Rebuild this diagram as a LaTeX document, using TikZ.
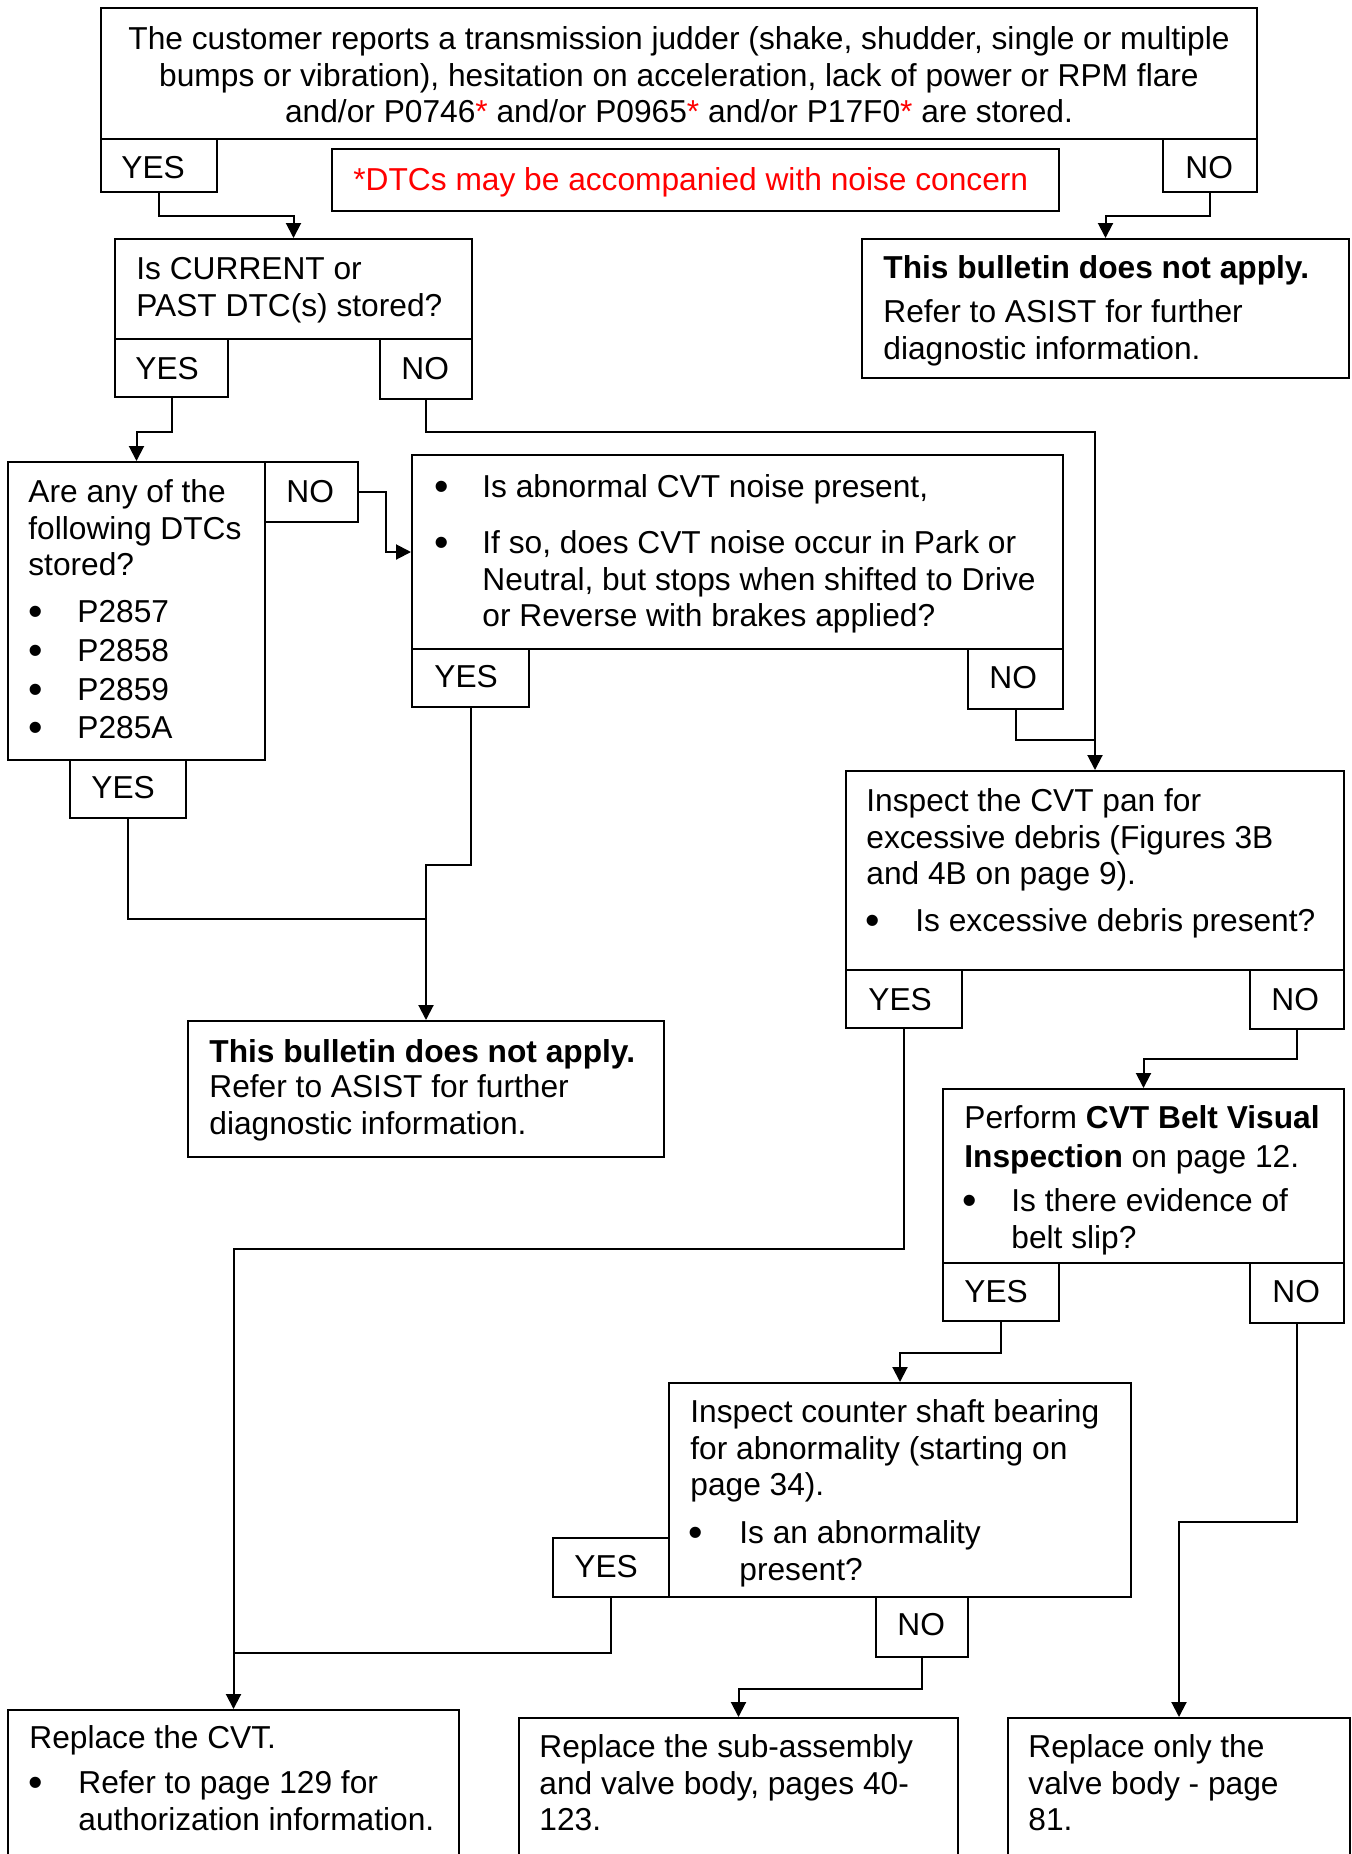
\documentclass[tikz,border=0pt]{standalone}
\usepackage{graphicx}
\usepackage{fontspec}
\setmainfont{Liberation Sans}
\usetikzlibrary{fit,arrows.meta}
\newcommand\sr{\rule{0pt}{12.5pt}}
\newcommand\rd[1]{\textcolor{red}{#1}}
\newcommand\bul{\raisebox{-1.4pt}{\scalebox{1.3}{•}}}
\begin{document}
\begin{tikzpicture}[x=0.5pt,y=-0.5pt,
  bx/.style={draw,line width=1pt,inner sep=0pt},
  tx/.style={anchor=north west,inner sep=0pt,align=left,font=\fontsize{15.85}{18.3}\selectfont},
  ln/.style={line width=1pt},
  arr/.style={line width=1pt,-{Triangle[length=7.5pt,width=7.5pt]}}]
\clip (0,0) rectangle (1352,1854);
\fill[white] (0,0) rectangle (1352,1854);
% boxes
\node[bx,fit={(101,8) (1257,139)}] (top) {};
\node[bx,fit={(101,139) (217,192)}] (yes1) {};
\node[bx,fit={(332,149) (1059,211)}] (note) {};
\node[bx,fit={(1163,139) (1257,192)}] (no1) {};
\node[bx,fit={(862,239) (1349,378)}] (bul1) {};
\node[bx,fit={(115,239) (472,339)}] (cur) {};
\node[bx,fit={(115,339) (228,397)}] (yes2) {};
\node[bx,fit={(380,339) (472,399)}] (no2) {};
\node[bx,fit={(8,462) (265,760)}] (any) {};
\node[bx,fit={(265,462) (358,522)}] (noA) {};
\node[bx,fit={(70,760) (186,818)}] (yesA) {};
\node[bx,fit={(412,455) (1063,649)}] (cvt) {};
\node[bx,fit={(412,649) (529,707)}] (yesV) {};
\node[bx,fit={(968,649) (1063,709)}] (noV) {};
\node[bx,fit={(846,771) (1344,970)}] (pan) {};
\node[bx,fit={(846,970) (962,1028)}] (yesP) {};
\node[bx,fit={(1250,970) (1344,1029)}] (noP) {};
\node[bx,fit={(188,1021) (664,1157)}] (bul2) {};
\node[bx,fit={(943,1089) (1344,1263)}] (belt) {};
\node[bx,fit={(943,1263) (1059,1321)}] (yesB) {};
\node[bx,fit={(1250,1263) (1344,1323)}] (noB) {};
\node[bx,fit={(669,1383) (1131,1597)}] (cnt) {};
\node[bx,fit={(553,1538) (669,1597)}] (yesC) {};
\node[bx,fit={(876,1597) (968,1657)}] (noC) {};
\node[bx,fit={(8,1710) (459,1880)}] (rep1) {};
\node[bx,fit={(519,1718) (958,1880)}] (rep2) {};
\node[bx,fit={(1008,1718) (1350,1880)}] (rep3) {};
% connectors
\draw[arr] (yes1.south) -- ++(0,23) -| (cur.north);
\draw[arr] (no1.south) -- ++(0,23) -| (bul1.north);
\draw[arr] (yes2.south) -- ++(0,34) -| (any.north);
\draw[arr] (no2.south) -- ++(0,32) -| (pan.north);
\draw[ln] (noV.south) |- (pan.north |- 0,740);
\draw[arr] (noA.east) -- ++(27,0) |- (cvt.west);
\draw[arr] (yesV.south) -- ++(0,157) -| (bul2.north);
\draw[ln] (yesA.south) |- (bul2.north |- 0,919);
\draw[arr] (yesP.south) -- ++(0,220) -| (rep1.north);
\draw[ln] (yesC.south) |- (rep1.north |- 0,1653);
\draw[arr] (noP.south) -- ++(0,29) -| (belt.north);
\draw[arr] (yesB.south) -- ++(0,31) -| (cnt.north);
\draw[arr] (noB.south) -- ++(0,198) -| (rep3.north);
\draw[arr] (noC.south) -- ++(0,31) -| (rep2.north);
% texts
\node[tx,anchor=north,align=center] (tTop) at (679,24) {\sr The customer reports a transmission judder (shake, shudder, single or multiple\\bumps or vibration), hesitation on acceleration, lack of power or RPM flare\\and/or P0746\rd{*} and/or P0965\rd{*} and/or P17F0\rd{*} are stored.};
\node[tx] (tYes1) at (121,153) {\sr YES};
\node[tx] (tNo1) at (1185,153) {\sr NO};
\node[tx,text=red] (tNote) at (353,165) {\sr *DTCs may be accompanied with noise concern};
\node[tx] (tBul1a) at (883,253) {\sr\textbf{This bulletin does not apply.}};
\node[tx] (tBul1b) at (883,297) {\sr Refer to ASIST for further\\diagnostic information.};
\node[tx] (tCur) at (136,254) {\sr Is CURRENT or\\PAST DTC(s) stored?};
\node[tx] (tYes2) at (135,354) {\sr YES};
\node[tx] (tNo2) at (401,354) {\sr NO};
\node[tx] (tAny) at (28,477) {\sr Are any of the\\following DTCs\\stored?};
\node[tx] (bA1) at (28,597) {\sr\bul};
\node[tx] (tA1) at (77,597) {\sr P2857};
\node[tx] (bA2) at (28,636) {\sr\bul};
\node[tx] (tA2) at (77,636) {\sr P2858};
\node[tx] (bA3) at (28,675) {\sr\bul};
\node[tx] (tA3) at (77,675) {\sr P2859};
\node[tx] (bA4) at (28,713) {\sr\bul};
\node[tx] (tA4) at (77,713) {\sr P285A};
\node[tx] (tNoA) at (286,477) {\sr NO};
\node[tx] (tYesA) at (91,773) {\sr YES};
\node[tx] (bV1) at (434,472) {\sr\bul};
\node[tx] (tV1) at (482,472) {\sr Is abnormal CVT noise present,};
\node[tx] (bV2) at (434,528) {\sr\bul};
\node[tx] (tV2) at (482,528) {\sr If so, does CVT noise occur in Park or\\Neutral, but stops when shifted to Drive\\or Reverse with brakes applied?};
\node[tx] (tYesV) at (434,662) {\sr YES};
\node[tx] (tNoV) at (989,663) {\sr NO};
\node[tx] (tPan) at (866,786) {\sr Inspect the CVT pan for\\excessive debris (Figures 3B\\and 4B on page 9).};
\node[tx] (bP1) at (865,906) {\sr\bul};
\node[tx] (tP1) at (915,906) {\sr Is excessive debris present?};
\node[tx] (tYesP) at (868,985) {\sr YES};
\node[tx] (tNoP) at (1271,985) {\sr NO};
\node[tx] (tBul2a) at (209,1037) {\sr\textbf{This bulletin does not apply.}};
\node[tx] (tBul2b) at (209,1072) {\sr Refer to ASIST for further\\diagnostic information.};
\node[tx] (tBelt) at (964,1103) {\sr Perform \textbf{CVT Belt Visual}\\[1pt]\textbf{Inspection} on page 12.};
\node[tx] (bB1) at (962,1186) {\sr\bul};
\node[tx] (tB1) at (1011,1186) {\sr Is there evidence of\\belt slip?};
\node[tx] (tYesB) at (964,1277) {\sr YES};
\node[tx] (tNoB) at (1272,1277) {\sr NO};
\node[tx] (tCnt) at (690,1397) {\sr Inspect counter shaft bearing\\for abnormality (starting on\\page 34).};
\node[tx] (bC1) at (688,1518) {\sr\bul};
\node[tx] (tC1) at (739,1518) {\sr Is an abnormality\\present?};
\node[tx] (tYesC) at (574,1552) {\sr YES};
\node[tx] (tNoC) at (897,1610) {\sr NO};
\node[tx] (tRep1) at (29,1723) {\sr Replace the CVT.};
\node[tx] (bR1) at (28,1768) {\sr\bul};
\node[tx] (tR1) at (78,1768) {\sr Refer to page 129 for\\authorization information.};
\node[tx] (tRep2) at (539,1732) {\sr Replace the sub-assembly\\and valve body, pages 40-\\123.};
\node[tx] (tRep3) at (1028,1732) {\sr Replace only the\\valve body - page\\81.};
\end{tikzpicture}
\end{document}
